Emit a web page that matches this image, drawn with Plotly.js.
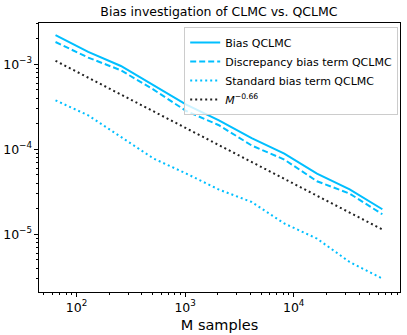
<!DOCTYPE html>
<html>
<head>
<meta charset="utf-8">
<script src="https://cdn.plot.ly/plotly-3.0.1.min.js"></script>
<style>
  html, body { margin: 0; padding: 0; background: #fff; }
  #chart { width: 407px; height: 335px; }
</style>
</head>
<body>
<div id="chart"></div>
<script>
// sample sizes M = 2^6 .. 2^16
var samples = [64, 128, 256, 512, 1024, 2048, 4096, 8192, 16384, 32768, 65536];

// values
var biasQclmc = [2.21e-3, 1.40e-3, 9.55e-4, 5.66e-4, 3.36e-4, 2.19e-4, 1.35e-4, 8.89e-5, 5.17e-5, 3.38e-5, 1.97e-5];
var discrepancyBias = [1.83e-3, 1.20e-3, 8.50e-4, 5.04e-4, 2.82e-4, 1.92e-4, 1.11e-4, 7.57e-5, 4.21e-5, 3.01e-5, 1.72e-5];
var standardBias = [3.77e-4, 2.51e-4, 1.40e-4, 7.78e-5, 5.18e-5, 3.36e-5, 2.40e-5, 1.34e-5, 8.89e-6, 4.72e-6, 3.01e-6];
var referenceRate = [1.10e-3, 6.96e-4, 4.41e-4, 2.79e-4, 1.77e-4, 1.12e-4, 7.07e-5, 4.47e-5, 2.83e-5, 1.79e-5, 1.14e-5];

var cyan = '#00bfff';

var data = [
    {x: samples, y: biasQclmc, name: 'Bias QCLMC', mode: 'lines',
     line: {color: cyan, width: 2}},
    {x: samples, y: discrepancyBias, name: 'Discrepancy bias term QCLMC', mode: 'lines',
     line: {color: cyan, width: 2, dash: '6px,3px'}},
    {x: samples, y: standardBias, name: 'Standard bias term QCLMC', mode: 'lines',
     line: {color: cyan, width: 2, dash: '2px,3px'}},
    {x: samples, y: referenceRate, name: '<i>M</i><sup>\u22120.66</sup>', mode: 'lines',
     line: {color: '#222', width: 2, dash: '2px,3px'}}
];

var axisStyle = {
    type: 'log',
    showgrid: false,
    zeroline: false,
    showline: true,
    linecolor: '#000',
    linewidth: 1,
    mirror: true,
    ticks: 'outside',
    ticklen: 4,
    tickcolor: '#000',
    dtick: 1,
    exponentformat: 'power',
    tickfont: {family: 'DejaVu Sans', size: 10, color: '#000'},
    minor: {ticks: 'outside', ticklen: 2, tickcolor: '#000', showgrid: false}
};

var layout = {
    width: 407,
    height: 335,
    margin: {l: 39, r: 7, t: 23, b: 43},
    paper_bgcolor: '#fff',
    plot_bgcolor: '#fff',
    font: {family: 'DejaVu Sans', color: '#000'},
    title: {text: 'Bias investigation of CLMC vs. QCLMC', font: {size: 12.5},
            x: 0.538, xanchor: 'center', y: 0.965, yanchor: 'middle'},
    xaxis: Object.assign({}, axisStyle, {
        range: [1.654, 4.979],
        title: {text: 'M samples', font: {size: 14.5}, standoff: 6}
    }),
    yaxis: Object.assign({}, axisStyle, {
        range: [-5.679, -2.514]
    }),
    showlegend: true,
    legend: {
        x: 0.995, y: 0.985, xanchor: 'right', yanchor: 'top',
        bgcolor: 'rgba(255,255,255,0.8)',
        bordercolor: '#ccc', borderwidth: 1,
        font: {size: 11},
        itemwidth: 30,
        tracegroupgap: 0
    }
};

Plotly.newPlot('chart', data, layout, {displayModeBar: false, staticPlot: true});
</script>
</body>
</html>
